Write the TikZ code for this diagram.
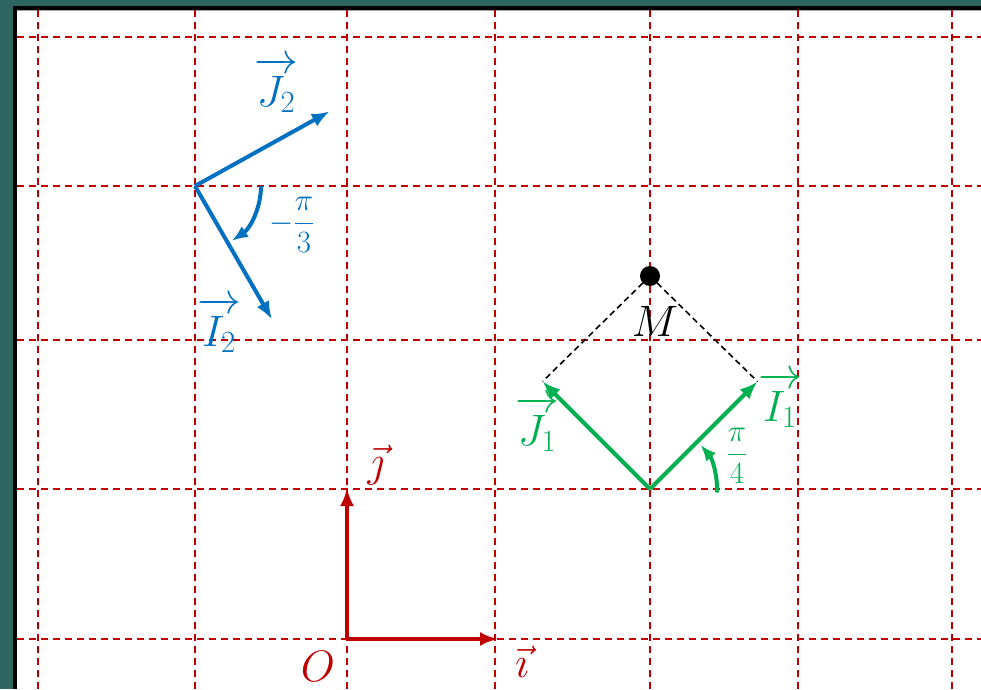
\documentclass[tikz,border=0pt]{standalone}
\usepackage{fix-cm}
\usepackage{amsmath}
\usetikzlibrary{arrows.meta,calc}
\definecolor{cred}{HTML}{C00000}
\definecolor{cblue}{HTML}{0070C0}
\definecolor{cgreen}{HTML}{00B050}
\definecolor{teal1}{HTML}{2D6560}
\tikzset{
  gridline/.style={cred, line width=1.8pt, dash pattern=on 7pt off 5pt},
  vec/.style={line width=4pt, -{Latex[length=18pt,width=14pt]}},
  anglearc/.style={line width=4pt, -{Latex[length=16pt,width=13pt]}},
  lab/.style={inner sep=0pt, font=\fontsize{44}{52}\selectfont},
  smalllab/.style={inner sep=0pt, font=\fontsize{31}{36}\selectfont},
  helper/.style={black, line width=1.6pt, dash pattern=on 6pt off 4pt}
}
\newcommand{\ovec}[1]{\overrightarrow{\mathstrut #1}}
\begin{document}
\begin{tikzpicture}[x=1pt,y=1pt]
\useasboundingbox (0,0) rectangle (981,689);
% frame
\fill[teal1] (0,0) rectangle (981,689);
\fill[white] (17,0) rectangle (981,679);
\draw[black, line width=4pt] (15,0) -- (15,681) -- (981,681);
\draw[gray!70, line width=1pt] (17,678.5) -- (981,678.5);
% grid
\foreach \x in {38,195,347,495,650,798,952} \draw[gridline] (\x,0) -- (\x,679);
\foreach \y in {652,503,349,200,50} \draw[gridline] (17,\y) -- (981,\y);
% red basis
\coordinate (O) at (347,50);
\coordinate (I) at (498,50);
\coordinate (J) at (347,201);
\draw[vec, cred] (O) -- (I);
\draw[vec, cred] (O) -- (J);
\node[lab, text=cred] (lO) at (318,23) {$O$};
\node[lab, text=cred] (li) at (522,27) {$\vec{\imath}$};
\node[lab, text=cred] (lj) at (376,224) {$\vec{\jmath}$};
% blue basis
\coordinate (O2) at (195,503);
\coordinate (I2) at ($(O2)+(-60:154)$);
\coordinate (J2) at ($(O2)+(29:154)$);
\draw[vec, cblue] (O2) -- (J2);
\draw[vec, cblue] (O2) -- (I2);
\draw[anglearc, cblue] ($(O2)+(0:66)$) arc[start angle=0, end angle=-56, radius=66];
\node[lab, text=cblue] (lJ2) at (276,602) {$\ovec{J_2}$};
\node[lab, text=cblue] (lI2) at (219,362) {$\ovec{I_2}$};
\node[smalllab, text=cblue] (la2) at (292,464) {$\displaystyle {-}\frac{\pi}{3}$};
% green basis
\coordinate (O1) at (650,200);
\coordinate (I1) at ($(O1)+(45:152)$);
\coordinate (J1) at ($(O1)+(135:152)$);
\coordinate (M) at ($(O1)+(90:213)$);
\draw[helper] (M) -- (I1);
\draw[helper] (M) -- (J1);
\draw[vec, cgreen] (O1) -- (I1);
\draw[vec, cgreen] (O1) -- (J1);
\draw[anglearc, cgreen] ($(O1)+(-3:67)$) arc[start angle=-3, end angle=41, radius=67];
\fill[black] (M) circle (10);
\node[lab] (lM) at (655,368) {$M$};
\node[lab, text=cgreen] (lI1) at (780,287) {$\ovec{I_1}$};
\node[lab, text=cgreen] (lJ1) at (537,263) {$\ovec{J_1}$};
\node[smalllab, text=cgreen] (la1) at (737,233) {$\displaystyle \frac{\pi}{4}$};
\end{tikzpicture}
\end{document}
